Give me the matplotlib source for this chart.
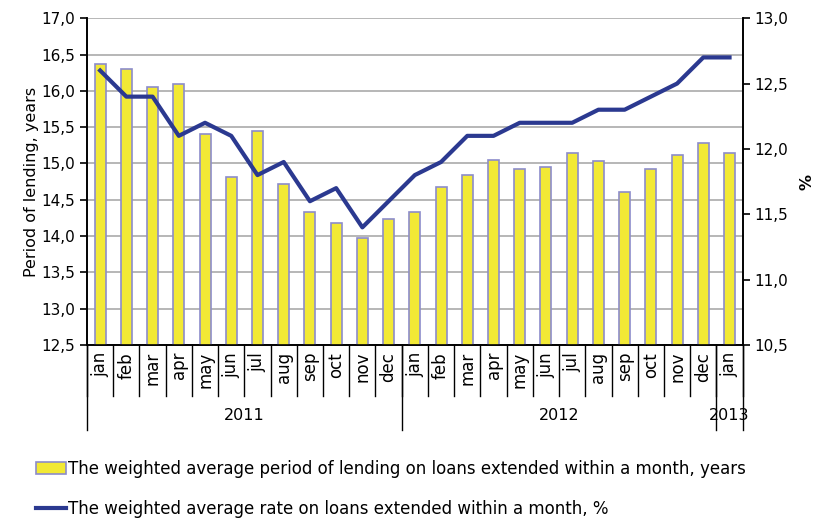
import numpy as np
import matplotlib.pyplot as plt
from matplotlib.ticker import FuncFormatter

plt.rcParams['font.family'] = 'DejaVu Sans'

months = ['jan', 'feb', 'mar', 'apr', 'may', 'jun', 'jul', 'aug', 'sep', 'oct', 'nov', 'dec',
          'jan', 'feb', 'mar', 'apr', 'may', 'jun', 'jul', 'aug', 'sep', 'oct', 'nov', 'dec',
          'jan']
years = ['2011', '2012', '2013']
period = [16.37, 16.30, 16.05, 16.10, 15.40, 14.81, 15.45, 14.72, 14.33, 14.18, 13.97, 14.23,
          14.33, 14.68, 14.84, 15.05, 14.92, 14.95, 15.14, 15.04, 14.61, 14.92, 15.12, 15.28,
          15.14]
rate = [12.6, 12.4, 12.4, 12.1, 12.2, 12.1, 11.8, 11.9, 11.6, 11.7, 11.4, 11.6,
        11.8, 11.9, 12.1, 12.1, 12.2, 12.2, 12.2, 12.3, 12.3, 12.4, 12.5, 12.7,
        12.7]

x = np.arange(len(months))
comma = FuncFormatter(lambda v, p: f'{v:.1f}'.replace('.', ','))

fig = plt.figure(figsize=(8.17, 5.2), dpi=100)
ax = fig.add_axes([0.1065, 0.3365, 0.8025, 0.6285])
ax2 = ax.twinx()

# bars on the left axis
bars = ax.bar(x, period, width=0.42, bottom=0, color='#F2E935', edgecolor='#8C8CCB',
              linewidth=1.2, zorder=3,
              label='The weighted average period of lending on loans extended within a month, years')
ax.set_ylim(12.5, 17.0)
ax.set_yticks(np.arange(12.5, 17.01, 0.5))
ax.yaxis.set_major_formatter(comma)
ax.grid(axis='y', color='#AAAAAA', linewidth=1.2, zorder=0)
ax.set_axisbelow(True)
ax.set_xlim(-0.5, len(months) - 0.5)
ax.set_ylabel('Period of lending, years', fontsize=11.5, labelpad=2)

# line on the right axis
line, = ax2.plot(x, rate, color='#2B3990', linewidth=3, zorder=4,
                 label='The weighted average rate on loans extended within a month, %')
ax2.set_ylim(10.5, 13.0)
ax2.set_yticks(np.arange(10.5, 13.01, 0.5))
ax2.yaxis.set_major_formatter(comma)
ax2.set_ylabel('%', fontsize=11.5, fontweight='bold', labelpad=8)

for a in (ax, ax2):
    a.tick_params(axis='y', labelsize=11, length=5, width=1.2, direction='out')
    for s in a.spines.values():
        s.set_linewidth(1.2)
ax.spines['top'].set_visible(False)
ax2.spines['top'].set_visible(False)

# month labels
ax.set_xticks(x)
ax.set_xticklabels(months, rotation=90, fontsize=12)
ax.tick_params(axis='x', length=0, pad=5)

# month separators and year separators
tr = ax.get_xaxis_transform()
for b in np.arange(-0.5, len(months), 1.0):
    ax.plot([b, b], [0, -0.155], transform=tr, color='black', linewidth=1, clip_on=False)
for b in [-0.5, 11.5, 23.5, 24.5]:
    ax.plot([b, b], [0, -0.26], transform=tr, color='black', linewidth=1, clip_on=False)

year_pos = [5.5, 17.5, 24.0]
for yp, yl in zip(year_pos, years):
    ax.text(yp, -0.215, yl, transform=tr, ha='center', va='center', fontsize=11.5)

fig.legend([bars, line], [bars.get_label(), line.get_label()],
           loc='upper left', bbox_to_anchor=(0.036, 0.128), frameon=False,
           fontsize=12, labelspacing=1.3, handlelength=1.8, handletextpad=0.1,
           borderaxespad=0)

fig.savefig('out.png', dpi=100)
